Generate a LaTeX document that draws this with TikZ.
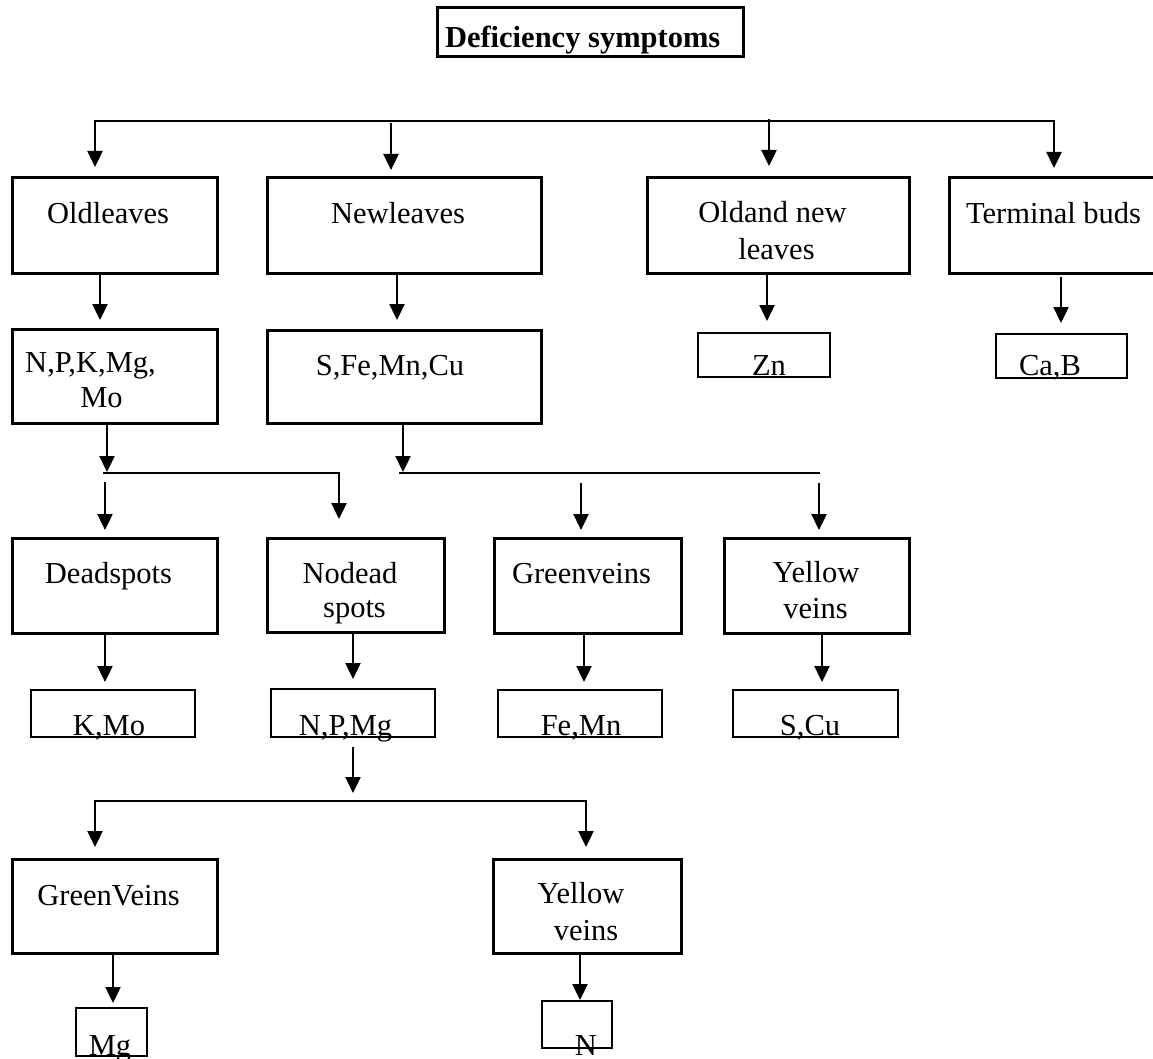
\documentclass[tikz,border=0pt]{standalone}
\usepackage{fontspec}
\setmainfont{Liberation Serif}
\usetikzlibrary{arrows.meta}
\newcommand\boxat[6]{\node[#6,minimum width={(#4)-(#2)},minimum height={(#5)-(#3)}] (#1) at ({((#2)+(#4))/2},{((#3)+(#5))/2}) {};}
\newcommand\txtat[4]{\node[txt] (#1) at (#2,#3) {#4};}
\newcommand\vdown[4]{\draw[arr,shorten >=#4] (#1.south -| #3,0) -- (#2.north -| #3,0);}
\begin{document}
\begin{tikzpicture}[x=1pt,y=-1pt,
 bigbox/.style={draw,line width=3pt,inner sep=0pt,outer sep=0pt,rectangle},
 smallbox/.style={draw,line width=2.2pt,inner sep=0pt,outer sep=0pt,rectangle},
 txt/.style={font=\fontsize{30.5}{35}\selectfont,inner sep=0pt,outer sep=0pt,anchor=base},
 arr/.style={line width=2.4pt,-{Triangle[length=16pt,width=15pt]}},
 bar/.style={line width=2.2pt,line cap=rect}]
\useasboundingbox (0,0) rectangle (1153,1059);
\fill[white] (0,0) rectangle (1153,1059);
% title
\boxat{title}{437}{8}{743}{57}{bigbox}
\node[txt,anchor=base west,font=\fontsize{30.5}{35}\selectfont\bfseries] (titleT) at (445,48) {Deficiency symptoms};
% row 1
\boxat{old}{12}{178}{217}{273}{bigbox}
\boxat{new}{267}{178}{541}{273}{bigbox}
\boxat{both}{647}{178}{909}{273}{bigbox}
\boxat{term}{949}{178}{1160}{273}{bigbox}
\txtat{oldT}{108}{224}{Oldleaves}
\txtat{newT}{398}{224}{Newleaves}
\txtat{bothTa}{772.5}{223}{Oldand new}
\txtat{bothTb}{776.5}{259}{leaves}
\txtat{termT}{1053.5}{224}{Terminal buds}
% row 2
\boxat{npk}{12}{329}{217}{423}{bigbox}
\boxat{sfe}{267}{330}{541}{423}{bigbox}
\boxat{zn}{698}{333}{830}{377}{smallbox}
\boxat{cab}{996}{334}{1127}{378}{smallbox}
\txtat{npkTa}{90.5}{372}{N,P,K,Mg,}
\txtat{npkTb}{101.5}{407}{Mo}
\txtat{sfeT}{390}{375}{S,Fe,Mn,Cu}
\txtat{znT}{769}{375}{Zn}
\txtat{cabT}{1050}{375}{Ca,B}
% row 3
\boxat{dead}{12}{538}{217}{633}{bigbox}
\boxat{nodead}{267}{538}{444}{632}{bigbox}
\boxat{green}{494}{538}{681}{633}{bigbox}
\boxat{yellow}{724}{538}{909}{633}{bigbox}
\txtat{deadT}{108.5}{583}{Deadspots}
\txtat{nodeadTa}{350}{583}{Nodead}
\txtat{nodeadTb}{354.5}{617}{spots}
\txtat{greenT}{581.5}{583}{Greenveins}
\txtat{yellowTa}{816}{582}{Yellow}
\txtat{yellowTb}{815.5}{618}{veins}
% row 4
\boxat{kmo}{31}{690}{195}{737}{smallbox}
\boxat{npmg}{271}{689}{435}{737}{smallbox}
\boxat{femn}{498}{690}{662}{737}{smallbox}
\boxat{scu}{733}{690}{898}{737}{smallbox}
\txtat{kmoT}{109}{735}{K,Mo}
\txtat{npmgT}{345.5}{735}{N,P,Mg}
\txtat{femnT}{581}{735}{Fe,Mn}
\txtat{scuT}{810}{735}{S,Cu}
% row 5
\boxat{greenV}{12}{859}{217}{953}{bigbox}
\boxat{yellowV}{493}{859}{681}{953}{bigbox}
\txtat{greenVT}{108.5}{905}{GreenVeins}
\txtat{yellowVTa}{581}{903}{Yellow}
\txtat{yellowVTb}{586}{940}{veins}
% row 6
\boxat{mg}{76}{1008}{147}{1056}{smallbox}
\boxat{nn}{542}{1001}{612}{1048}{smallbox}
\txtat{mgT}{110}{1055}{Mg}
\txtat{nT}{586}{1055}{N}
% top distribution
\coordinate (tb1) at (95,121);
\coordinate (tb2) at (391,123);
\coordinate (tb3) at (769,119);
\coordinate (tb4) at (1054,121);
\draw[bar] (tb1) -- (tb4);
\draw[arr,shorten >=11pt] (tb1) -- (tb1 |- old.north);
\draw[arr,shorten >=8pt] (tb2) -- (tb2 |- new.north);
\draw[arr,shorten >=12pt] (tb3) -- (tb3 |- both.north);
\draw[arr,shorten >=10pt] (tb4) -- (tb4 |- term.north);
% row 1 -> row 2
\vdown{old}{npk}{100}{9pt}
\vdown{new}{sfe}{397}{10pt}
\vdown{both}{zn}{767}{12pt}
\draw[arr,shorten <=4pt,shorten >=11pt] (term.south -| 1061,0) -- (cab.north -| 1061,0);
% left branch
\coordinate (jl) at (107,472);
\coordinate (bla) at (104,473);
\coordinate (blb) at (339,473);
\coordinate (dl) at (105,482);
\draw[arr] (npk.south -| jl) -- (jl);
\draw[bar] (bla) -- (blb);
\draw[arr,shorten >=19pt] (blb) -- (blb |- nodead.north);
\draw[arr,shorten >=8pt] (dl) -- (dl |- dead.north);
% right branch
\coordinate (jr) at (403,472);
\coordinate (bra) at (400,473);
\coordinate (brb) at (819,473);
\coordinate (gr) at (581,483);
\coordinate (yr) at (819,483);
\draw[arr] (sfe.south -| jr) -- (jr);
\draw[bar] (bra) -- (brb);
\draw[arr,shorten >=8pt] (gr) -- (gr |- green.north);
\draw[arr,shorten >=8pt] (yr) -- (yr |- yellow.north);
% row 3 -> row 4
\vdown{dead}{kmo}{105}{8pt}
\vdown{nodead}{npmg}{353}{10pt}
\vdown{green}{femn}{584}{8pt}
\vdown{yellow}{scu}{822}{8pt}
% N,P,Mg branch
\coordinate (jm) at (353,793);
\coordinate (bma) at (95,801);
\coordinate (bmb) at (586,801);
\draw[arr,shorten <=10pt] (npmg.south -| jm) -- (jm);
\draw[bar] (bma) -- (bmb);
\draw[arr,shorten >=12pt] (bma) -- (bma |- greenV.north);
\draw[arr,shorten >=12pt] (bmb) -- (bmb |- yellowV.north);
% row 5 -> row 6
\vdown{greenV}{mg}{113}{5pt}
\vdown{yellowV}{nn}{580}{1pt}
\end{tikzpicture}
\end{document}
